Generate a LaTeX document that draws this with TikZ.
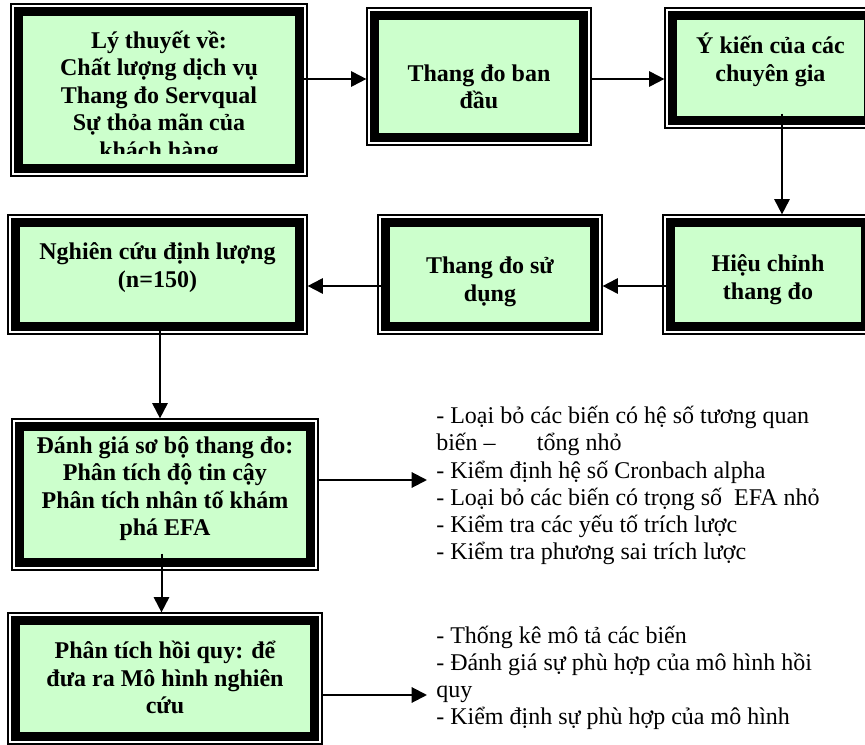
\documentclass[tikz,border=0pt]{standalone}
\usepackage{fontspec}
\setmainfont{Liberation Serif}
\usetikzlibrary{arrows.meta}

\definecolor{boxgreen}{RGB}{204,255,204}

\tikzset{
  outerline/.style={rectangle, draw=black, line width=0.9pt, inner sep=0pt},
  band/.style={draw=black, line width=6.2pt, fill=boxgreen},
  boxtext/.style={font=\bfseries\fontsize{18pt}{20.6pt}\selectfont, align=center, inner sep=0pt},
  listtext/.style={font=\fontsize{18pt}{20.3pt}\selectfont, align=left, inner xsep=6.75pt, inner ysep=0pt},
  flow/.style={draw=black, line width=1.5pt, -{Triangle[length=11.5pt, width=11.5pt]}}
}

% framed step: name, left, top, right, bottom, text centre y, text
\newcommand\flowbox[7]{%
  \node[outerline, minimum width={(#4-#2)*0.75pt}, minimum height={(#5-#3)*0.75pt}]
    (#1) at ({(#2+#4)/2},{(#3+#5)/2}) {};
  \draw[band] (#2+7.5,#3+7.5) rectangle (#4-7.5,#5-7.5);
  \begin{scope}
    \clip (#2,#3) rectangle (#4,#5-22);
    \node[boxtext] (#1-text) at ({(#2+#4)/2},#6) {#7};
  \end{scope}
}

\begin{document}
\begin{tikzpicture}[x=0.75pt, y=-0.75pt]
\useasboundingbox (0,0) rectangle (865,745);
\clip (0,0) rectangle (865,745);

% row 1
\flowbox{b1}{11}{4}{307}{176}{97}{Lý thuyết về:\\Chất lượng dịch vụ\\Thang đo Servqual\\Sự thỏa mãn của\\khách hàng}
\flowbox{b2}{367}{8}{591}{145}{87}{Thang đo ban\\đầu}
\flowbox{b3}{665}{8}{876}{128}{60}{Ý kiến của các\\chuyên gia}

% row 2
\flowbox{b4}{663}{215}{873}{334}{279.5}{Hiệu chỉnh\\thang đo}
\flowbox{b5}{378}{215}{602}{334}{282}{Thang đo sử\\dụng}
\flowbox{b6}{8}{215}{307}{334}{267.5}{Nghiên cứu định lượng\\(n=150)}

% analysis steps
\flowbox{b7}{12}{419}{318}{570}{488.5}{Đánh giá sơ bộ thang đo:\\Phân tích độ tin cậy\\Phân tích nhân tố khám\\phá EFA}
\flowbox{b8}{8}{613}{322}{744}{677.5}{Phân tích hồi quy: để\\đưa ra Mô hình nghiên\\cứu}

% notes beside the analysis steps
\node[listtext, anchor=west] (l1) at (427,485.5) {- Loại bỏ các biến có hệ số tương quan\\biến –\hspace{31pt}tổng nhỏ\\- Kiểm định hệ số Cronbach alpha\\- Loại bỏ các biến có trọng số\ \ EFA nhỏ\\- Kiểm tra các yếu tố trích lược\\- Kiểm tra phương sai trích lược};
\node[listtext, anchor=west] (l2) at (427,677.5) {- Thống kê mô tả các biến\\- Đánh giá sự phù hợp của mô hình hồi\\quy\\- Kiểm định sự phù hợp của mô hình};

% connector start points
\coordinate (s1) at ([shift={(-4,2.5)}]b1.east |- b2.west);
\coordinate (s2) at ([shift={(0,2.5)}]b2.east);
\coordinate (s3) at ([shift={(11.5,-15)}]b3.south);
\coordinate (s4) at ([shift={(5,11.5)}]b4.west);
\coordinate (s5) at ([shift={(5,11.5)}]b5.west);
\coordinate (s6) at ([shift={(2.5,-12)}]b6.south);
\coordinate (s7) at ([shift={(-3.5,-17)}]b7.south);
\coordinate (s7r) at ([shift={(0,-14.5)}]b7.east);
\coordinate (s8r) at ([shift={(0,16.5)}]b8.east);

% connectors
\draw[flow] (s1) -- (s1 -| b2.west);
\draw[flow] (s2) -- (s2 -| b3.west);
\draw[flow] (s3) -- (s3 |- b4.north);
\draw[flow] (s4) -- (s4 -| b5.east);
\draw[flow] (s5) -- (s5 -| b6.east);
\draw[flow] (s6) -- (s6 |- b7.north);
\draw[flow] (s7) -- (s7 |- b8.north);
\draw[flow] (s7r) -- (s7r -| l1.west);
\draw[flow] (s8r) -- (s8r -| l2.west);
\end{tikzpicture}
\end{document}
